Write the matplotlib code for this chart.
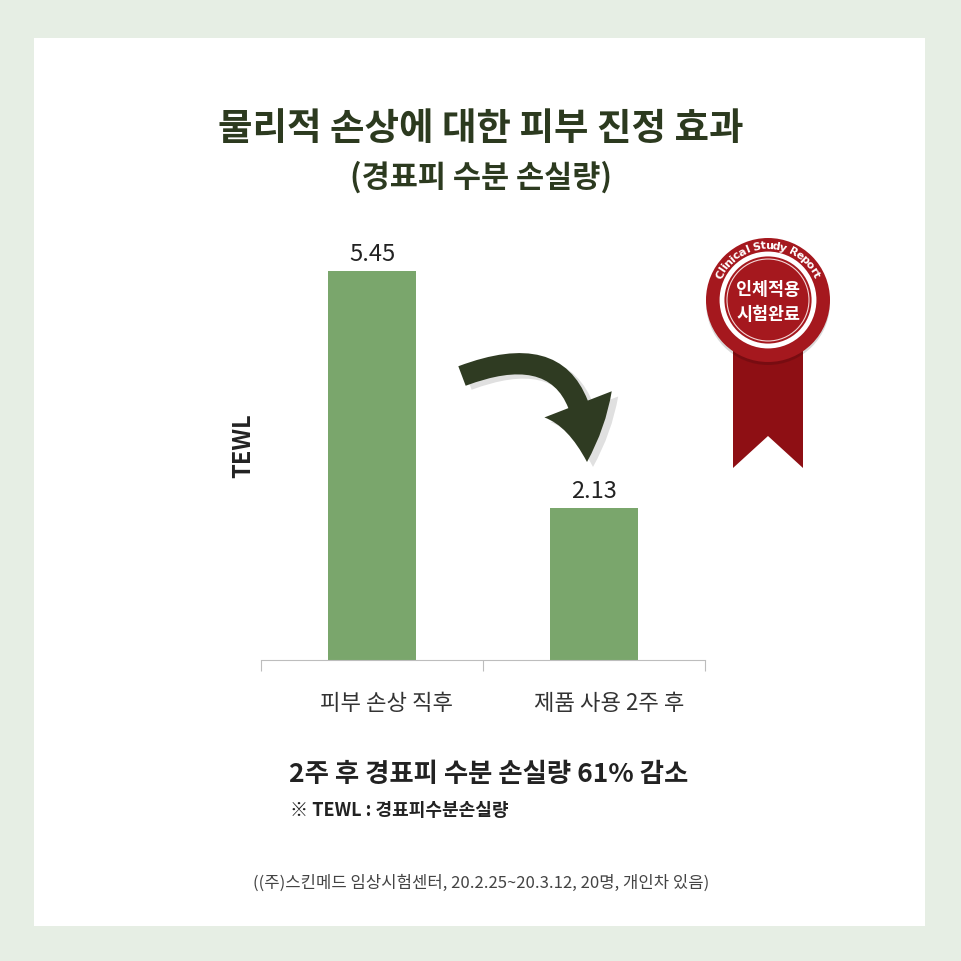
import numpy as np
import matplotlib
matplotlib.use("Agg")
import matplotlib.pyplot as plt
from matplotlib.patches import Rectangle, Circle, Polygon, FancyArrowPatch, ArrowStyle
from matplotlib.transforms import ScaledTranslation

plt.rcParams['font.family'] = ['Noto Sans CJK KR', 'DejaVu Sans']

categories = ["피부 손상 직후", "제품 사용 2주 후"]
tewl = [5.45, 2.13]
value_labels = ["5.45", "2.13"]

title = "물리적 손상에 대한 피부 진정 효과"
subtitle = "(경표피 수분 손실량)"
summary = "2주 후 경표피 수분 손실량 61% 감소"
note = "※ TEWL : 경표피수분손실량"
source = "((주)스킨메드 임상시험센터, 20.2.25~20.3.12, 20명, 개인차 있음)"

W = 961
dark = "#2c3a1f"
bar_green = "#7aa66c"
red = "#a5181e"

fig = plt.figure(figsize=(9.61, 9.61), dpi=100)
fig.patch.set_facecolor("#e6eee4")

# white panel behind everything
bg = fig.add_axes([0, 0, 1, 1], zorder=0)
bg.set_xlim(0, W)
bg.set_ylim(W, 0)
bg.axis("off")
bg.add_patch(Rectangle((34, 38), 891, 888, facecolor="white", edgecolor="none"))

# bar chart
ax = fig.add_axes([261 / W, 1 - 660 / W, 444 / W, 428 / W], zorder=1)
ax.patch.set_alpha(0)
x = np.arange(len(categories))
bars = ax.bar(x, tewl, width=0.4, color=bar_green)
ax.bar_label(bars, labels=value_labels, padding=4, fontsize=17, color="#222222")
ax.set_xlim(-0.5, 1.5)
ax.set_ylim(0, 6)
ax.set_yticks([])
for s in ["top", "right", "left"]:
    ax.spines[s].set_visible(False)
ax.spines["bottom"].set_color("#bdbdbd")
ax.set_xticks([-0.5, 0.5, 1.5])
ax.set_xticklabels([])
ax.tick_params(axis="x", which="major", length=8, color="#bdbdbd", direction="out")
ax.set_xticks(x, minor=True)
ax.set_xticklabels(categories, minor=True, fontsize=16, color="#333333")
ax.tick_params(axis="x", which="minor", length=0, pad=23)
shift = ScaledTranslation(0.15, 0, fig.dpi_scale_trans)
for lbl in ax.get_xticklabels(minor=True):
    lbl.set_transform(lbl.get_transform() + shift)
ax.set_ylabel("TEWL", fontsize=17, fontweight="bold", color="#222222", labelpad=4)

# texts
fig.text(0.5, 1 - 128 / W, title, ha="center", va="center", fontsize=27,
         fontweight="bold", color=dark)
fig.text(0.5, 1 - 177 / W, subtitle, ha="center", va="center", fontsize=22,
         fontweight="bold", color=dark)
fig.text(489 / W, 1 - 775 / W, summary, ha="center", va="center", fontsize=19,
         fontweight="bold", color="#222222")
fig.text(290 / W, 1 - 810 / W, note, ha="left", va="center", fontsize=13,
         fontweight="bold", color="#222222")
fig.text(481 / W, 1 - 883 / W, source, ha="center", va="center", fontsize=12,
         color="#444444")

# decorations: arrow and badge
deco = fig.add_axes([0, 0, 1, 1], zorder=2)
deco.set_xlim(0, W)
deco.set_ylim(W, 0)
deco.axis("off")

style = ArrowStyle("Simple", head_length=42, head_width=52, tail_width=15)
shadow = FancyArrowPatch((468, 380), (593, 467), arrowstyle=style,
                         connectionstyle="arc3,rad=-0.72", mutation_scale=1,
                         shrinkA=0, shrinkB=0, color="#000000", alpha=0.12, lw=0)
deco.add_patch(shadow)
arrow = FancyArrowPatch((462, 376), (587, 462), arrowstyle=style,
                        connectionstyle="arc3,rad=-0.72", mutation_scale=1,
                        shrinkA=0, shrinkB=0, color="#2f3b22", lw=0)
deco.add_patch(arrow)

cx, cy, R = 768, 300, 62
deco.add_patch(Polygon([(733, 345), (803, 345), (803, 468), (768, 436), (733, 468)],
                       closed=True, facecolor="#8e0f14", edgecolor="none"))
deco.add_patch(Circle((cx, cy + 3), R, facecolor="#000000", alpha=0.15, edgecolor="none"))
deco.add_patch(Circle((cx, cy), R, facecolor=red, edgecolor="none"))
deco.add_patch(Circle((cx, cy), 46, facecolor="none", edgecolor="white", lw=3.5))
deco.add_patch(Circle((cx, cy), 41, facecolor="none", edgecolor="#f3d6d6", lw=0.8))
deco.text(cx, cy - 10, "인체적용", ha="center", va="center", fontsize=12.5,
          fontweight="bold", color="white")
deco.text(cx, cy + 15, "시험완료", ha="center", va="center", fontsize=12.5,
          fontweight="bold", color="white")

# curved text around the top of the seal
arc_text = "Clinical Study Report"
widths = {"l": 0.35, "i": 0.35, " ": 0.4, "r": 0.5, "t": 0.5, "y": 0.6}
w = np.array([widths.get(c, 0.68) for c in arc_text])
pos = np.cumsum(w) - w / 2
angles = 152 - (pos - pos[0]) / (pos[-1] - pos[0]) * 124
for ch, a in zip(arc_text, angles):
    r = np.deg2rad(a)
    deco.text(cx + 54 * np.cos(r), cy - 54 * np.sin(r), ch, ha="center", va="center",
              rotation=a - 90, fontsize=8, fontweight="bold", color="white",
              family="DejaVu Sans")

fig.savefig("out.png", dpi=100)
